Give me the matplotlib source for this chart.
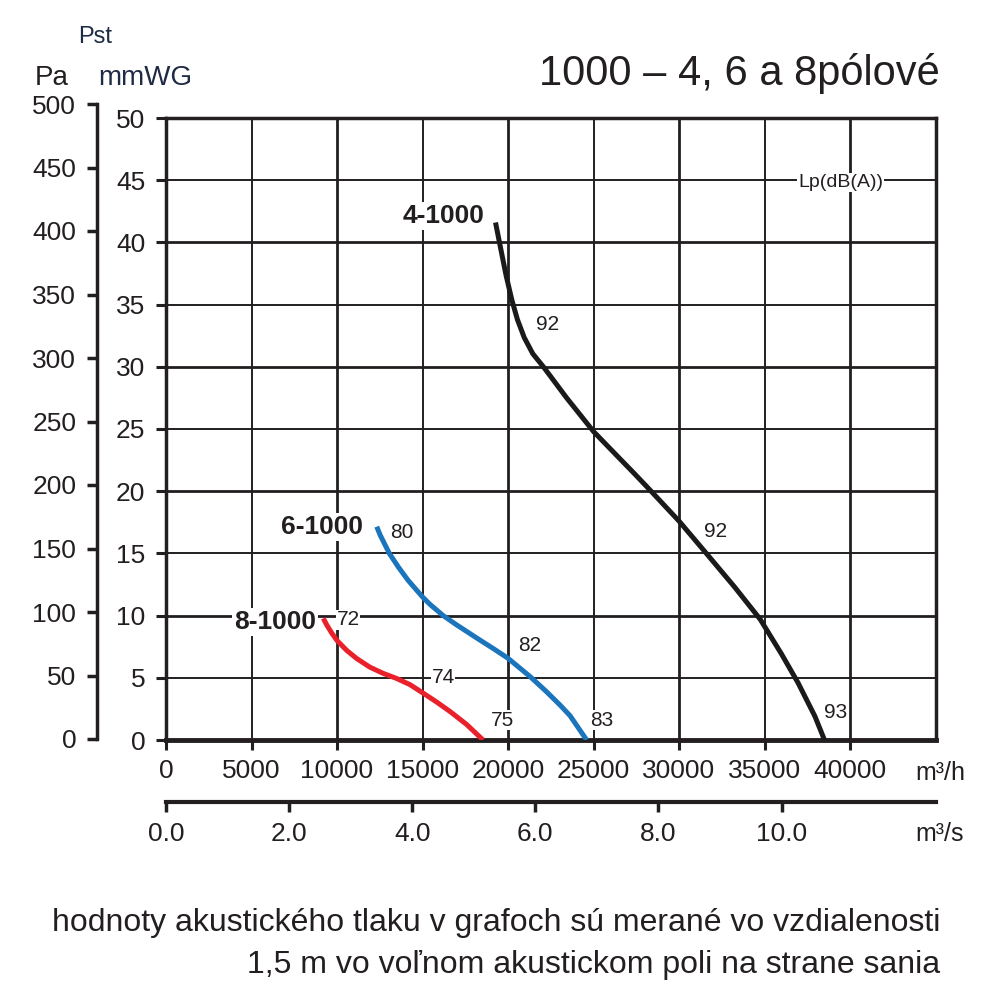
"""
Fan performance curves, series 1000 (4, 6 and 8 pole).
Static pressure against air flow, with sound pressure levels on the curves.
"""
import matplotlib.pyplot as plt

plt.rcParams['font.family'] = ['Liberation Sans', 'DejaVu Sans']

INK = '#231f20'

### ------------------------------- ###
###              Data               ###
### ------------------------------- ###

# axis ticks
flow_ticks = [0, 5000, 10000, 15000, 20000, 25000, 30000, 35000, 40000]   # m3/h
mmwg_ticks = [0, 5, 10, 15, 20, 25, 30, 35, 40, 45, 50]                   # mmWG
pa_ticks = [0, 50, 100, 150, 200, 250, 300, 350, 400, 450, 500]           # Pa
m3s_ticks = [0.0, 2.0, 4.0, 6.0, 8.0, 10.0]                               # m3/s

# 4-pole curve
flow_4 = [19270, 19530, 19880, 20220, 20550, 20950, 21450, 22070, 23430, 25000,
          26550, 27400, 28300, 30000, 31600, 33250, 34750, 36000, 36960, 37950, 38508]
p_4 = [41.6, 39.8, 37.4, 35.4, 33.8, 32.35, 31.05, 30.0, 27.5, 24.8,
       22.6, 21.4, 20.1, 17.6, 15.0, 12.3, 9.7, 6.9, 4.6, 1.9, 0.0]

# 6-pole curve
flow_6 = [12325, 12515, 13060, 13590, 14150, 15000, 15440, 16210, 17000,
          18170, 19140, 20000, 21290, 22200, 23050, 23630, 24600]
p_6 = [17.15, 16.5, 15.0, 13.9, 12.85, 11.5, 10.9, 10.0, 9.25,
       8.2, 7.35, 6.57, 5.1, 3.95, 2.8, 1.95, 0.0]

# 8-pole curve
flow_8 = [9200, 9400, 9690, 10000, 10570, 11150, 11930, 12710, 13480,
          14270, 15000, 15830, 16600, 17580, 18540]
p_8 = [9.78, 9.25, 8.6, 8.0, 7.2, 6.55, 5.85, 5.35, 4.95,
       4.45, 3.8, 3.05, 2.3, 1.25, 0.0]

### ------------------------------- ###
###              Plot               ###
### ------------------------------- ###

fig = plt.figure(figsize=(10, 10), dpi=100)

# main chart (m3/h vs mmWG)
ax = fig.add_axes([0.166, 0.26, 0.7695, 0.622])
ax.set_xlim(0, 45000)
ax.set_ylim(0, 50)

for f in flow_ticks[1:]:
    ax.axvline(f, color=INK, lw=2.0 if f % 10000 == 0 else 1.4, zorder=1)
for p in mmwg_ticks[1:-1]:
    ax.axhline(p, color=INK, lw=2.0 if p % 10 == 0 else 1.4, zorder=1)

for side in ['left', 'top', 'right']:
    ax.spines[side].set_linewidth(2.5)
ax.spines['bottom'].set_linewidth(3.5)
for s in ax.spines.values():
    s.set_color(INK)

ax.set_xticks(flow_ticks)
ax.set_yticks(mmwg_ticks)
ax.tick_params(axis='both', direction='out', length=7, width=2.2,
               labelsize=19, colors=INK)
ax.tick_params(axis='x', pad=7)
ax.tick_params(axis='y', pad=8)

ax.plot(flow_4, p_4, color='#1a1a1a', lw=3.6, solid_capstyle='butt',
        solid_joinstyle='round', zorder=3)
ax.plot(flow_6, p_6, color='#1b75bc', lw=3.6, solid_capstyle='butt',
        solid_joinstyle='round', zorder=3)
ax.plot(flow_8, p_8, color='#e8212b', lw=3.6, solid_capstyle='butt',
        solid_joinstyle='round', zorder=3)

# curve labels and sound levels
box = dict(facecolor='white', edgecolor='none', pad=1.5)
for x, y, s in [(18650, 42.1, '4-1000'), (11520, 17.1, '6-1000'), (8770, 9.5, '8-1000')]:
    ax.text(x, y, s, ha='right', va='center', size=19, weight='bold',
            color=INK, bbox=box, zorder=4)

for x, y, s in [(22340, 33.4, '92'), (32160, 16.8, '92'), (39180, 2.25, '93'),
                (13800, 16.7, '80'), (21290, 7.6, '82'), (25500, 1.6, '83'),
                (10640, 9.65, '72'), (16200, 5.0, '74'), (19650, 1.6, '75')]:
    ax.text(x, y, s, ha='center', va='center', size=15, color=INK,
            bbox=dict(facecolor='white', edgecolor='none', pad=0.5), zorder=4)

ax.text(39450, 44.8, 'Lp(dB(A))', ha='center', va='center', size=14,
        color=INK, bbox=dict(facecolor='white', edgecolor='none', pad=0.8), zorder=4)

# Pa axis, standalone spine on the left
ax_pa = fig.add_axes([0.097, 0.261, 0.0001, 0.635])
ax_pa.set_ylim(0, 500)
ax_pa.set_yticks(pa_ticks)
ax_pa.set_xticks([])
ax_pa.patch.set_visible(False)
for side in ['top', 'right', 'bottom']:
    ax_pa.spines[side].set_visible(False)
ax_pa.spines['left'].set_linewidth(2.5)
ax_pa.spines['left'].set_color(INK)
ax_pa.tick_params(axis='y', direction='out', length=7, width=2.5,
                  labelsize=19, colors=INK, pad=8)

# m3/s axis below
ax_s = fig.add_axes([0.166, 0.1985, 0.7695, 0.0001])
ax_s.set_xlim(0, 45000 / 3600)
ax_s.set_xticks(m3s_ticks)
ax_s.set_xticklabels(['%.1f' % v for v in m3s_ticks])
ax_s.set_yticks([])
ax_s.patch.set_visible(False)
for side in ['top', 'right', 'left']:
    ax_s.spines[side].set_visible(False)
ax_s.spines['bottom'].set_linewidth(3.0)
ax_s.spines['bottom'].set_color(INK)
ax_s.tick_params(axis='x', direction='out', length=7, width=2.5,
                 labelsize=19, colors=INK, pad=8)

# texts around the chart
fig.text(0.078, 1 - 0.037, 'Pst', size=17, color='#1f2a44', va='center')
fig.text(0.052, 1 - 0.078, 'Pa', size=20, color=INK, va='center', ha='center')
fig.text(0.098, 1 - 0.078, 'mmWG', size=20, color='#1f2a44', va='center')
fig.text(0.94, 1 - 0.073, '1000 – 4, 6 a 8pólové', size=30, color=INK,
         ha='right', va='center')
fig.text(0.915, 1 - 0.773, 'm³/h', size=18, color=INK, va='center')
fig.text(0.915, 1 - 0.834, 'm³/s', size=18, color=INK, va='center')
fig.text(0.94, 1 - 0.923, 'hodnoty akustického tlaku v grafoch sú merané vo vzdialenosti',
         size=23, color=INK, ha='right', va='center')
fig.text(0.94, 1 - 0.965, '1,5 m vo voľnom akustickom poli na strane sania',
         size=23, color=INK, ha='right', va='center')

fig.savefig('out.png', dpi=100, facecolor='white')
